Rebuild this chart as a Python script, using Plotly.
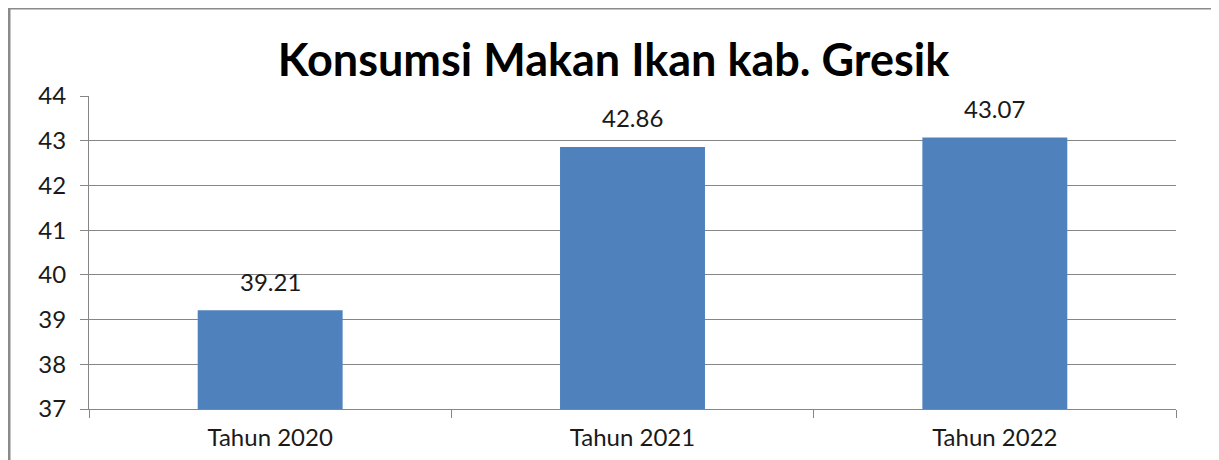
import plotly.graph_objects as go

categories = ["Tahun 2020", "Tahun 2021", "Tahun 2022"]
values = [39.21, 42.86, 43.07]
value_labels = ["39.21", "42.86", "43.07"]
y_ticks = [37, 38, 39, 40, 41, 42, 43, 44]

# page body has an 8px margin; compensate so the chart lands where the reference has it
OFF = 8
W, H = 1219 - OFF, 460 - OFF
ml, mr, mt, mb = 89 - OFF, 43, 96 - OFF, 51
pw, ph = W - ml - mr, H - mt - mb

grid = "#868686"
txt = "#1a1a1a"
font = "Lato"

fig = go.Figure()
fig.add_trace(go.Bar(
    x=categories, y=values, marker=dict(color="#4F81BD", line=dict(width=0)),
    width=0.4, hoverinfo="x+y",
))
for c, v, t in zip(categories, values, value_labels):
    fig.add_annotation(x=c, y=v, text=t, showarrow=False, yshift=29,
                       font=dict(family=font, size=24, color=txt))

fig.update_layout(
    width=W, height=H,
    margin=dict(l=ml, r=mr, t=mt, b=mb, autoexpand=False),
    paper_bgcolor="white", plot_bgcolor="white",
    showlegend=False,
    title=dict(text="<b>Konsumsi Makan Ikan kab. Gresik</b>",
               x=0.5, xref="container", xanchor="center",
               y=1 - (60 - OFF) / H, yref="container", yanchor="middle",
               font=dict(family=font, size=45, color="black")),
    xaxis=dict(type="category", tickson="boundaries", ticks="outside", ticklen=8,
               tickcolor=grid, showline=True, linecolor=grid, linewidth=1,
               showgrid=False, tickfont=dict(family=font, size=24, color=txt),
               range=[-0.5, 2.5], ticklabelstandoff=7, automargin=False),
    yaxis=dict(range=[37, 44], tickvals=y_ticks, ticks="outside", ticklen=8,
               tickcolor=grid, showline=True, linecolor=grid, linewidth=1,
               showgrid=True, gridcolor=grid, gridwidth=1, zeroline=False,
               tickfont=dict(family=font, size=24, color=txt), ticklabelstandoff=9,
               automargin=False),
    shapes=[dict(type="rect", xref="paper", yref="paper",
                 x0=(1 - ml) / pw, x1=1.2, y0=-0.5, y1=(H - mb) / ph,
                 line=dict(color="#8a8a8a", width=3), fillcolor="rgba(0,0,0,0)",
                 layer="below")],
)

fig.write_html("out.html")
